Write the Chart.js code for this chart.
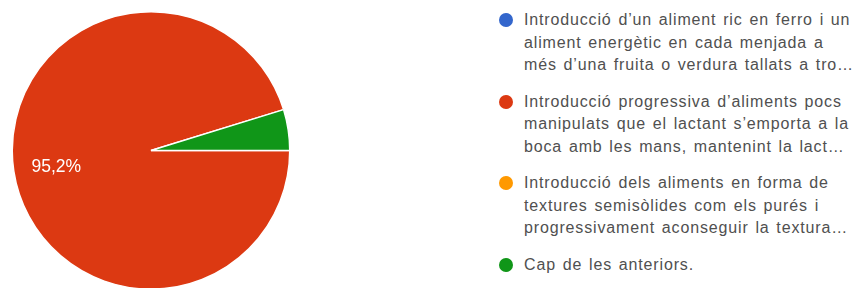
<!DOCTYPE html>
<html>
<head>
<meta charset="utf-8">
<script src="https://cdn.jsdelivr.net/npm/chart.js@4"></script>
<style>
  html, body { margin: 0; padding: 0; background: #fff; width: 860px; height: 288px; overflow: hidden; }
  #pieBox { position: absolute; left: 11px; top: 11px; width: 280px; height: 279px; }
  #legend { position: absolute; left: 497px; top: 9px; font-family: Arial, "Liberation Sans", sans-serif; font-size: 16px; letter-spacing: 0.85px; word-spacing: 1.5px; color: #505050; }
  .item { position: relative; padding-left: 27px; line-height: 22.5px; margin-bottom: 14px; white-space: nowrap; }
  .dot { position: absolute; left: 2px; top: 4px; width: 14px; height: 14px; border-radius: 50%; }
</style>
</head>
<body>
<div id="pieBox"><canvas id="pie"></canvas></div>
<div id="legend"></div>
<script>
// respostes (Google Forms), ordre de la llegenda
const labels = [
  ['Introducció d\u2019un aliment ric en ferro i un', 'aliment energètic en cada menjada a', 'més d\u2019una fruita o verdura tallats a tro\u2026'],
  ['Introducció progressiva d\u2019aliments pocs', 'manipulats que el lactant s\u2019emporta a la', 'boca amb les mans, mantenint la lact\u2026'],
  ['Introducció dels aliments en forma de', 'textures semisòlides com els purés i', 'progressivament aconseguir la textura\u2026'],
  ['Cap de les anteriors.']
];
const values = [0, 20, 0, 1];
const colors = ['#3366cc', '#dc3912', '#ff9900', '#109618'];

// etiqueta de percentatge dins la porció
const sliceLabels = {
  id: 'sliceLabels',
  afterDatasetsDraw(chart) {
    const ctx = chart.ctx;
    const data = chart.data.datasets[0].data;
    const total = data.reduce((a, b) => a + b, 0);
    chart.getDatasetMeta(0).data.forEach((arc, i) => {
      const pct = data[i] / total * 100;
      if (pct < 5) return;
      const { x, y, startAngle, endAngle, outerRadius } = arc.getProps(['x', 'y', 'startAngle', 'endAngle', 'outerRadius'], true);
      const mid = (startAngle + endAngle) / 2;
      const r = outerRadius * 0.69;
      ctx.save();
      ctx.fillStyle = '#ffffff';
      ctx.font = '17.5px Arial, "Liberation Sans", sans-serif';
      ctx.textAlign = 'center';
      ctx.textBaseline = 'middle';
      ctx.fillText(pct.toFixed(1).replace('.', ',') + '%', x + Math.cos(mid) * r, y + Math.sin(mid) * r + 2);
      ctx.restore();
    });
  }
};

new Chart(document.getElementById('pie'), {
  type: 'pie',
  data: {
    labels: labels.map(l => l.join(' ')),
    datasets: [{
      data: values,
      backgroundColor: colors,
      borderColor: '#ffffff',
      borderWidth: 1.5
    }]
  },
  options: {
    animation: false,
    responsive: true,
    maintainAspectRatio: false,
    rotation: 90,
    plugins: {
      legend: { display: false },
      tooltip: { enabled: false }
    }
  },
  plugins: [sliceLabels]
});

// llegenda HTML
const legendEl = document.getElementById('legend');
labels.forEach((lines, i) => {
  const item = document.createElement('div');
  item.className = 'item';
  const dot = document.createElement('span');
  dot.className = 'dot';
  dot.style.background = colors[i];
  item.appendChild(dot);
  lines.forEach(t => {
    const line = document.createElement('div');
    line.textContent = t;
    item.appendChild(line);
  });
  legendEl.appendChild(item);
});
</script>
</body>
</html>
